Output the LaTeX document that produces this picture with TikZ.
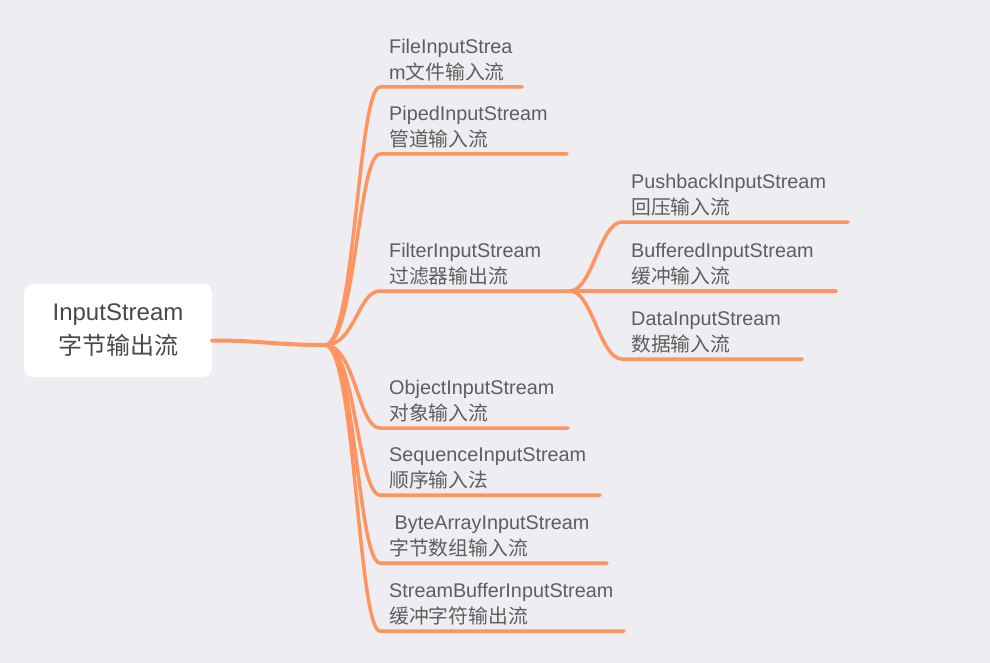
\documentclass[tikz,border=0pt]{standalone}
\usepackage{fontspec}
\setmainfont{Liberation Sans}
\newfontfamily\cjk{Noto Sans CJK SC}
\definecolor{bgcol}{RGB}{238,237,242}
\definecolor{branchcol}{RGB}{255,148,96}
\definecolor{textcol}{RGB}{94,94,94}
\definecolor{rootcol}{RGB}{72,72,72}
\begin{document}
\begin{tikzpicture}[x=1pt,y=-1pt,
    root node/.style={rounded corners=9pt,fill=white,minimum width=188pt,minimum height=93pt,align=center,text=rootcol,font=\fontsize{24}{34}\selectfont},
    leaf node/.style={anchor=south west,align=left,inner xsep=9pt,inner ysep=6pt,text=textcol,font=\fontsize{19.8}{26}\selectfont},
    branch/.style={draw=branchcol,line width=3.5pt,line cap=round,line join=round}]
    \fill[bgcol] (0,0) rectangle (990,663);

    \node[root node] (root) at (118,330.5) {InputStream\\{\cjk 字节输出流}};
    \coordinate (hub) at (325,345);

    \node[leaf node] (file) at (380,87) {FileInputStrea\\m{\cjk 文件输入流}};
    \node[leaf node] (piped) at (380,154) {PipedInputStream\\{\cjk 管道输入流}};
    \node[leaf node] (filter) at (380,291) {FilterInputStream\\{\cjk 过滤器输出流}};
    \node[leaf node] (object) at (380,428) {ObjectInputStream\\{\cjk 对象输入流}};
    \node[leaf node] (sequence) at (380,495) {SequenceInputStream\\{\cjk 顺序输入法}};
    \node[leaf node] (bytearray) at (380,563) {\ ByteArrayInputStream\\{\cjk 字节数组输入流}};
    \node[leaf node] (streambuffer) at (380,631) {StreamBufferInputStream\\{\cjk 缓冲字符输出流}};

    \node[leaf node] (pushback) at (622,222) {PushbackInputStream\\{\cjk 回压输入流}};
    \node[leaf node] (buffered) at (622,291) {BufferedInputStream\\{\cjk 缓冲输入流}};
    \node[leaf node] (data) at (622,359) {DataInputStream\\{\cjk 数据输入流}};

    % root to hub
    \draw[branch,line width=4pt] ([yshift=-10pt]root.east) .. controls +(50,0) and +(-50,0) .. (hub);

    % first level
    \draw[branch] (hub) .. controls +(30,0) and +(-22,0) .. (file.south west) -- ++(142,0);
    \draw[branch] (hub) .. controls +(30,0) and +(-22,0) .. (piped.south west) -- ++(187,0);
    \draw[branch] (hub) .. controls +(30,0) and +(-22,0) .. (filter.south west) -- ++(190,0) coordinate (subhub);
    \draw[branch] (hub) .. controls +(30,0) and +(-22,0) .. (object.south west) -- ++(188,0);
    \draw[branch] (hub) .. controls +(30,0) and +(-22,0) .. (sequence.south west) -- ++(220,0);
    \draw[branch] (hub) .. controls +(30,0) and +(-22,0) .. (bytearray.south west) -- ++(227,0);
    \draw[branch] (hub) .. controls +(30,0) and +(-22,0) .. (streambuffer.south west) -- ++(244,0);

    % second level
    \draw[branch] (subhub) .. controls +(22,0) and +(-22,0) .. (pushback.south west) -- ++(226,0);
    \draw[branch] (subhub) -- (buffered.south west) -- ++(214,0);
    \draw[branch] (subhub) .. controls +(22,0) and +(-22,0) .. (data.south west) -- ++(180,0);
\end{tikzpicture}
\end{document}
